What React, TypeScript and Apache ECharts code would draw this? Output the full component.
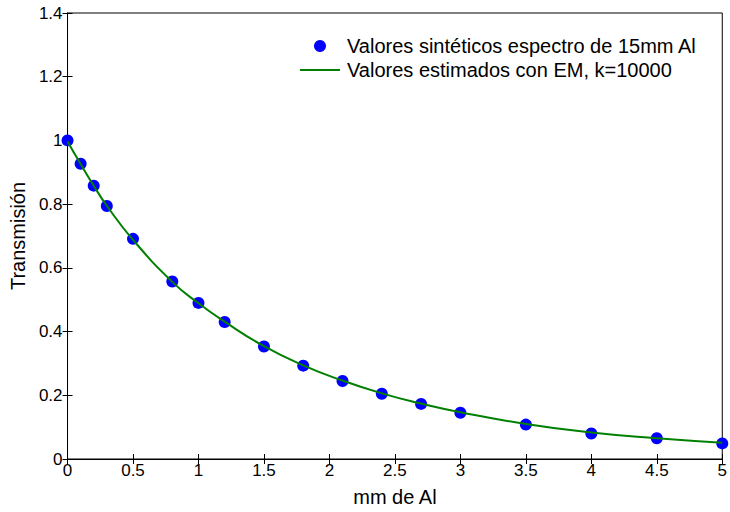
import React, { useEffect, useRef } from "react";
import * as echarts from "echarts";

const thickness = [0, 0.1, 0.2, 0.3, 0.5, 0.8, 1.0, 1.2, 1.5, 1.8, 2.1, 2.4, 2.7, 3.0, 3.5, 4.0, 4.5, 5.0];
const synthetic = [1.0, 0.927, 0.858, 0.794, 0.691, 0.557, 0.49, 0.43, 0.353, 0.293, 0.245, 0.205, 0.173, 0.145, 0.108, 0.08, 0.065, 0.049];
const estimated = [0.997, 0.926, 0.858, 0.795, 0.688, 0.556, 0.489, 0.431, 0.354, 0.294, 0.246, 0.206, 0.174, 0.147, 0.11, 0.083, 0.065, 0.051];

const nameSynthetic = "Valores sintéticos espectro de 15mm Al";
const nameEstimated = "Valores estimados con EM, k=10000";
const xTitle = "mm de Al";
const yTitle = "Transmisión";

const FONT = "Liberation Sans, Arial, sans-serif";

export default function App() {
  const ref = useRef<HTMLDivElement>(null);
  useEffect(() => {
    if (!ref.current) return;
    const chart = echarts.init(ref.current, null, { renderer: "svg" });
    const tickStyle = { show: true, inside: true, length: 5, lineStyle: { color: "#000", width: 1 } };
    chart.setOption({
      animation: false,
      backgroundColor: "#fff",
      textStyle: { fontFamily: FONT },
      grid: { left: 67, right: 3, top: 13, bottom: 51, show: true, borderColor: "#000", borderWidth: 1, backgroundColor: "transparent" },
      legend: {
        orient: "vertical",
        left: 295,
        top: 31,
        itemWidth: 40,
        itemHeight: 12,
        itemGap: 4,
        symbolKeepAspect: true,
        textStyle: { fontFamily: FONT, fontSize: 20, lineHeight: 20, color: "#000", padding: [0, 0, 0, 2] },
        data: [
          { name: nameSynthetic, icon: "circle" },
          { name: nameEstimated, icon: "path://M0,0 H40 V2 H0 Z" },
        ],
      },
      xAxis: [
        {
          type: "value",
          min: 0,
          max: 5,
          interval: 0.5,
          name: xTitle,
          nameLocation: "middle",
          nameGap: 28,
          nameTextStyle: { fontFamily: FONT, fontSize: 20, color: "#000" },
          axisLine: { show: true, lineStyle: { color: "#000" } },
          axisTick: tickStyle,
          axisLabel: { fontFamily: FONT, fontSize: 17, color: "#000", margin: 3 },
          splitLine: { show: false },
        },
        {
          type: "value",
          position: "top",
          min: 0,
          max: 5,
          interval: 0.5,
          axisLine: { show: true, lineStyle: { color: "#000" } },
          axisTick: tickStyle,
          axisLabel: { show: false },
          splitLine: { show: false },
        },
      ],
      yAxis: [
        {
          type: "value",
          min: 0,
          max: 1.4,
          interval: 0.2,
          name: yTitle,
          nameLocation: "middle",
          nameGap: 38,
          nameTextStyle: { fontFamily: FONT, fontSize: 20, color: "#000" },
          axisLine: { show: true, lineStyle: { color: "#000" } },
          axisTick: tickStyle,
          axisLabel: { fontFamily: FONT, fontSize: 17, color: "#000", margin: 5 },
          splitLine: { show: false },
        },
        {
          type: "value",
          position: "right",
          min: 0,
          max: 1.4,
          interval: 0.2,
          axisLine: { show: true, lineStyle: { color: "#000" } },
          axisTick: tickStyle,
          axisLabel: { show: false },
          splitLine: { show: false },
        },
      ],
      series: [
        {
          name: nameSynthetic,
          type: "scatter",
          symbol: "circle",
          symbolSize: 12,
          itemStyle: { color: "#0000ff", opacity: 1 },
          data: thickness.map((x, i) => [x, synthetic[i]]),
          z: 2,
        },
        {
          name: nameEstimated,
          type: "line",
          smooth: true,
          symbol: "none",
          lineStyle: { color: "#008000", width: 2 },
          itemStyle: { color: "#008000" },
          data: thickness.map((x, i) => [x, estimated[i]]),
          z: 3,
        },
      ],
    });
    return () => chart.dispose();
  }, []);
  return <div ref={ref} style={{ width: 730, height: 512, position: "absolute", left: 0, top: 0 }} />;
}
